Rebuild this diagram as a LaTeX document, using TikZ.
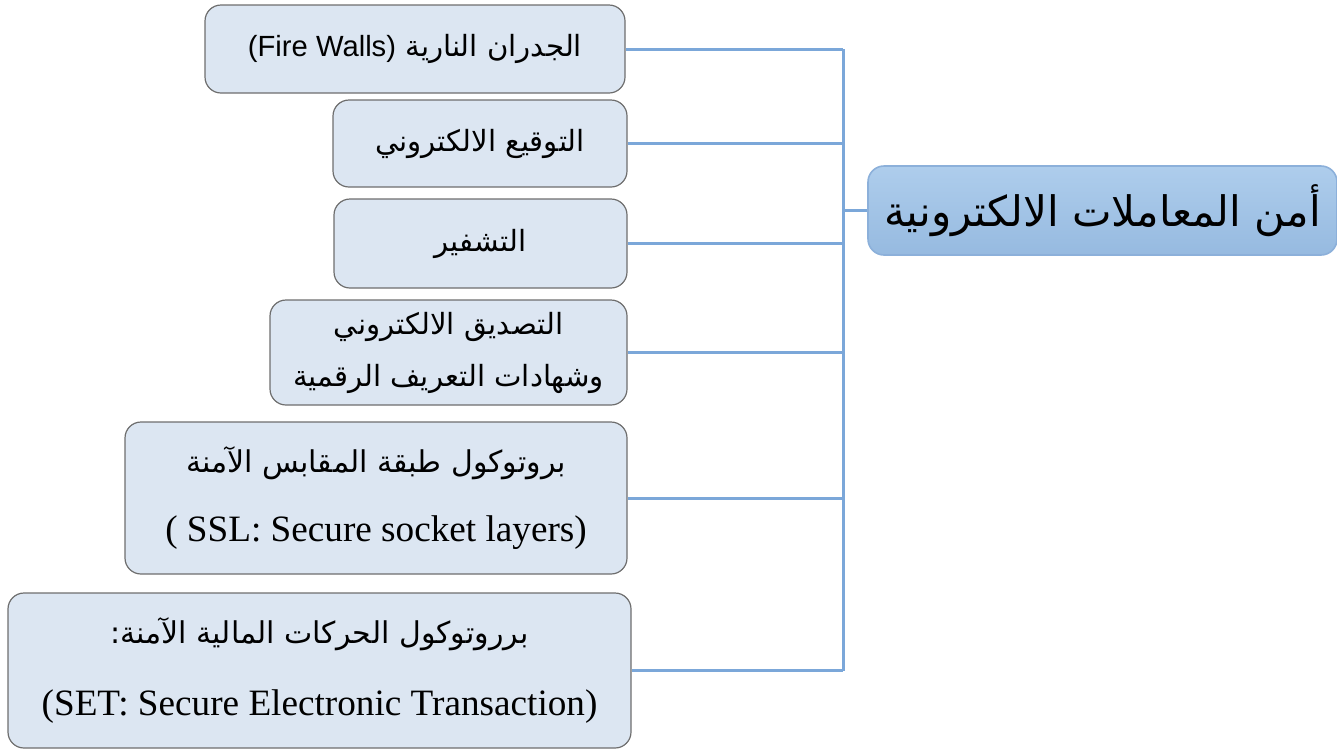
\documentclass[tikz,border=0pt]{standalone}
\usepackage{fontspec}
\setmainfont{Liberation Serif}
\newfontfamily\arabicfont[Script=Arabic]{DejaVu Sans}
\newfontfamily\arialfont{Liberation Sans}
\TeXXeTstate=1
\definecolor{boxfill}{HTML}{DCE6F2}
\definecolor{boxline}{HTML}{6E6E6E}
\definecolor{linkblue}{HTML}{7BA7D9}
\definecolor{maintop}{HTML}{AECDEC}
\definecolor{mainbot}{HTML}{96BAE0}
\definecolor{mainline}{HTML}{8CB0DA}
\tikzset{
  itembox/.style={draw=boxline, fill=boxfill, rounded corners=8pt, line width=0.6pt,
    inner sep=0pt, align=center},
  mainbox/.style={draw=mainline, top color=maintop, bottom color=mainbot,
    rounded corners=8pt, line width=0.8pt, inner sep=0pt, align=center},
  link/.style={draw=linkblue, line width=1.5pt},
  ar/.style={font=\arabicfont\fontsize{14.6}{18}\selectfont},
}
\begin{document}
\begin{tikzpicture}[x=0.5pt,y=-0.5pt]
\useasboundingbox (0,0) rectangle (1337,751);
% items
\node[itembox, ar, minimum width=210pt, minimum height=44pt] (b1) at (415,49)
  {\beginR الجدران النارية \beginL{\arialfont(Fire Walls)}\endL\endR};
\node[itembox, ar, minimum width=147pt, minimum height=43.5pt] (b2) at (480,143.5)
  {\beginR التوقيع الالكتروني\endR};
\node[itembox, ar, minimum width=146.5pt, minimum height=44.5pt] (b3) at (480.5,243.5)
  {\beginR التشفير\endR};
\node[itembox, ar, minimum width=178.5pt, minimum height=52.5pt] (b4) at (448.5,352.5)
  {\beginR التصديق الالكتروني\endR\\[8pt]\beginR وشهادات التعريف الرقمية\endR};
\node[itembox, minimum width=251pt, minimum height=76pt] (b5) at (376,498)
  {{\arabicfont\fontsize{15}{18}\selectfont\beginR بروتوكول طبقة المقابس الآمنة\endR}\\[17pt]
   {\fontsize{18.6}{22}\selectfont ( SSL: Secure socket layers)}};
\node[itembox, minimum width=311.5pt, minimum height=77.5pt] (b6) at (319.5,670.5)
  {{\arabicfont\fontsize{15}{18}\selectfont\beginR برروتوكول الحركات المالية الآمنة:\endR}\\[18.5pt]
   {\fontsize{18.6}{22}\selectfont (SET: Secure Electronic Transaction)}};
% main
\node[mainbox, minimum width=234.5pt, minimum height=44.5pt,
  font=\arabicfont\fontsize{21}{26}\selectfont] (m) at (1102.5,210.5)
  {\beginR أمن المعاملات الالكترونية\endR};
% connectors
\coordinate (trunk) at (843,0);
\foreach \b in {b1,b2,b3,b4,b5,b6}{
  \draw[link] (\b.east) -- (\b.east -| trunk);
}
\draw[link] (b1.east -| trunk) -- (b6.east -| trunk);
\draw[link] (m.west) -- (m.west -| trunk);
\end{tikzpicture}
\end{document}
